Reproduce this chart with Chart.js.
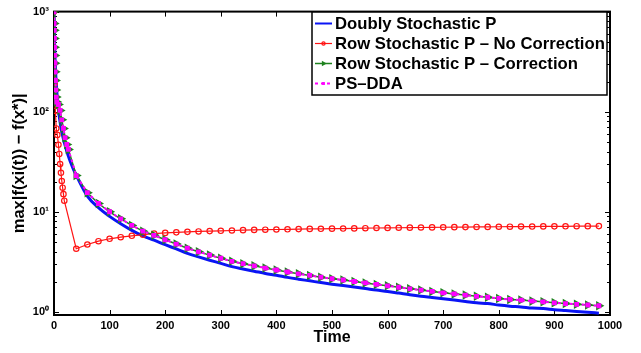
<!DOCTYPE html>
<html lang="en">
  <head>
    <meta charset="UTF-8" />
    <title>Convergence</title>
    <script src="https://cdn.jsdelivr.net/npm/chart.js"></script>
    <style>
      body {
        margin: 0;
        background: #ffffff;
      }
    </style>
  </head>
  <body>
    <canvas id="myChart" width="641" height="353"></canvas>
    <script>
      // time steps after the first transient, every 20 iterations
      const tTail = [40, 60, 80, 100, 120, 140, 160, 180, 200, 220, 240, 260, 280, 300, 320, 340, 360, 380, 400, 420, 440, 460, 480, 500, 520, 540, 560, 580, 600, 620, 640, 660, 680, 700, 720, 740, 760, 780, 800, 820, 840, 860, 880, 900, 920, 940, 960, 980];

      const tDoublyHead = [0, 1, 2, 3, 5, 8, 12, 16, 20, 25, 30, 35];
      const doublyHead = [1000, 500, 320, 240, 160, 105, 72, 56, 46, 37, 31, 26.5];
      const doublyTail = [23.2, 14.35, 11.0, 9.0, 7.59, 6.52, 5.73, 5.2, 4.69, 4.25, 3.84, 3.54, 3.28, 3.05, 2.83, 2.68, 2.55, 2.42, 2.32, 2.21, 2.12, 2.04, 1.96, 1.89, 1.83, 1.77, 1.71, 1.65, 1.6, 1.54, 1.48, 1.43, 1.39, 1.35, 1.31, 1.27, 1.23, 1.21, 1.17, 1.14, 1.12, 1.09, 1.08, 1.05, 1.03, 1.01, 0.99, 0.97];

      const tNoCorrHead = [0, 1, 2.5, 4, 6, 8, 9.5, 11, 12.5, 14, 15.5, 17, 18.5];
      const noCorrHead = [1000, 191, 102, 68, 58.6, 46.7, 37.8, 30, 24.5, 20.3, 17.4, 15, 12.9];
      const noCorrTail = [4.27, 4.71, 5.08, 5.37, 5.57, 5.75, 5.9, 6.05, 6.15, 6.23, 6.3, 6.36, 6.41, 6.45, 6.5, 6.55, 6.59, 6.62, 6.65, 6.68, 6.71, 6.74, 6.76, 6.78, 6.8, 6.82, 6.85, 6.88, 6.9, 6.92, 6.94, 6.96, 6.98, 7.0, 7.02, 7.03, 7.05, 7.06, 7.08, 7.09, 7.11, 7.12, 7.14, 7.15, 7.16, 7.17, 7.18, 7.19];

      const tCorrHead = [0, 0.3, 0.6, 0.9, 1.2, 1.5, 1.8, 2.2, 2.7, 3.3, 4, 5, 8, 11, 14, 17, 20, 23, 26];
      const corrHead = [1000, 760, 650, 540, 440, 365, 305, 250, 205, 165, 140, 125, 118, 103, 83, 68, 55, 47, 42];
      const corrTail = [23, 15.5, 12.1, 10.0, 8.5, 7.3, 6.4, 5.82, 5.25, 4.76, 4.32, 3.98, 3.69, 3.43, 3.2, 3.03, 2.88, 2.74, 2.62, 2.5, 2.4, 2.31, 2.22, 2.14, 2.08, 2.01, 1.945, 1.88, 1.82, 1.76, 1.7, 1.65, 1.6, 1.55, 1.51, 1.47, 1.43, 1.4, 1.36, 1.33, 1.31, 1.28, 1.26, 1.23, 1.21, 1.19, 1.17, 1.15];
      // PS-DDA sits on top of the corrected row-stochastic curve
      const psddaHead = [1000, 760, 650, 540, 440, 365, 305, 250, 205, 165, 140, 125, 118, 103, 83, 68, 55, 47, 42];
      const psddaTail = [23, 15.5, 12.1, 10.0, 8.5, 7.3, 6.4, 5.82, 5.25, 4.76, 4.32, 3.98, 3.69, 3.43, 3.2, 3.03, 2.88, 2.74, 2.62, 2.5, 2.4, 2.31, 2.22, 2.14, 2.08, 2.01, 1.945, 1.88, 1.82, 1.76, 1.7, 1.65, 1.6, 1.55, 1.51, 1.47, 1.43, 1.4, 1.36, 1.33, 1.31, 1.28, 1.26, 1.23, 1.21, 1.19, 1.17, 1.15];

      const xTicks = [0, 100, 200, 300, 400, 500, 600, 700, 800, 900, 1000];
      const yTicks = [1, 10, 100, 1000];

      const FONT = "'Liberation Sans', Arial, Helvetica, sans-serif";
      const sup = ["⁰", "¹", "²", "³"];

      const toPoints = (xs, ys) => xs.map((x, i) => ({ x: x, y: ys[i] }));

      const data = {
        datasets: [
          {
            label: "Doubly Stochastic P",
            data: toPoints(tDoublyHead.concat(tTail), doublyHead.concat(doublyTail)),
            borderColor: "rgb(10, 20, 245)",
            backgroundColor: "rgb(10, 20, 245)",
            borderWidth: 3,
            pointRadius: 0,
            cubicInterpolationMode: "monotone",
            order: 3,
          },
          {
            label: "Row Stochastic P – No Correction",
            data: toPoints(tNoCorrHead.concat(tTail), noCorrHead.concat(noCorrTail)),
            borderColor: "rgb(255, 20, 20)",
            backgroundColor: "rgba(255, 255, 255, 0)",
            borderWidth: 1.2,
            pointStyle: "circle",
            pointRadius: 2.7,
            pointBorderWidth: 1.2,
            pointBorderColor: "rgb(255, 20, 20)",
            pointBackgroundColor: "rgba(255, 255, 255, 0)",
            order: 2,
          },
          {
            label: "Row Stochastic P – Correction",
            data: toPoints(tCorrHead.concat(tTail), corrHead.concat(corrTail)),
            borderColor: "rgb(30, 130, 30)",
            backgroundColor: "rgb(30, 130, 30)",
            borderWidth: 1.5,
            pointStyle: "triangle",
            pointRotation: 90,
            pointRadius: 5.5,
            pointBorderWidth: 0,
            pointBackgroundColor: "rgb(30, 130, 30)",
            order: 1,
          },
          {
            label: "PS–DDA",
            data: toPoints(tCorrHead.concat(tTail), psddaHead.concat(psddaTail)),
            borderColor: "rgb(255, 0, 255)",
            backgroundColor: "rgb(255, 0, 255)",
            borderWidth: 2,
            borderDash: [3, 3],
            pointStyle: "rect",
            pointRadius: 3.4,
            pointBorderWidth: 0,
            pointBackgroundColor: "rgb(255, 0, 255)",
            order: 0,
          },
        ],
      };

      // axes box with inward ticks, drawn under the data like matlab does
      const frame = {
        id: "frame",
        beforeDatasetsDraw(chart) {
          const { ctx, chartArea: a, scales } = chart;
          ctx.save();
          ctx.strokeStyle = "#000";
          ctx.lineWidth = 1;
          ctx.beginPath();
          xTicks.forEach((v) => {
            const px = Math.round(scales.x.getPixelForValue(v)) + 0.5;
            ctx.moveTo(px, a.bottom);
            ctx.lineTo(px, a.bottom - 5);
            ctx.moveTo(px, a.top);
            ctx.lineTo(px, a.top + 5);
          });
          yTicks.forEach((d) => {
            for (let k = 1; k <= 9; k++) {
              const v = d * k;
              if (v > 1000 || (k > 1 && d === 1000)) continue;
              const py = Math.round(scales.y.getPixelForValue(v)) + 0.5;
              const len = k === 1 ? 5 : 3;
              ctx.moveTo(a.left, py);
              ctx.lineTo(a.left + len, py);
              ctx.moveTo(a.right, py);
              ctx.lineTo(a.right - len, py);
            }
          });
          ctx.stroke();
          ctx.lineWidth = 2;
          ctx.strokeRect(a.left, a.top, a.right - a.left, a.bottom - a.top);
          ctx.restore();
        },
      };

      const legendBox = {
        id: "legendBox",
        afterDraw(chart) {
          const ctx = chart.ctx;
          const x0 = 312, y0 = 12, w = 295, h = 83;
          ctx.save();
          ctx.fillStyle = "#fff";
          ctx.fillRect(x0, y0, w, h);
          ctx.strokeStyle = "#000";
          ctx.lineWidth = 1.5;
          ctx.strokeRect(x0, y0, w, h);
          chart.data.datasets.forEach((ds, i) => {
            const cy = y0 + 11.5 + i * 20;
            ctx.strokeStyle = ds.borderColor;
            ctx.lineWidth = Math.min(ds.borderWidth, 2);
            ctx.setLineDash(ds.borderDash || []);
            ctx.beginPath();
            ctx.moveTo(x0 + 3, cy);
            ctx.lineTo(x0 + 20, cy);
            ctx.stroke();
            ctx.setLineDash([]);
            if (ds.pointRadius > 0) {
              ctx.fillStyle = ds.pointBackgroundColor;
              ctx.strokeStyle = ds.pointBorderColor || ds.borderColor;
              ctx.lineWidth = ds.pointBorderWidth;
              Chart.helpers.drawPoint(
                ctx,
                {
                  pointStyle: ds.pointStyle,
                  rotation: ds.pointRotation || 0,
                  radius: ds.pointRadius * 0.6,
                  borderWidth: ds.pointBorderWidth,
                },
                x0 + 11.5,
                cy
              );
            }
            ctx.fillStyle = "#000";
            ctx.font = "bold 16.7px " + FONT;
            ctx.textAlign = "left";
            ctx.textBaseline = "middle";
            ctx.fillText(ds.label, x0 + 23, cy + 1);
          });
          ctx.restore();
        },
      };

      Chart.defaults.color = "#000";

      const config = {
        type: "line",
        data: data,
        options: {
          responsive: false,
          animation: false,
          devicePixelRatio: 1,
          layout: { padding: { top: 8, right: 31, left: 0, bottom: 0 } },
          plugins: {
            legend: { display: false },
            tooltip: { enabled: false },
          },
          scales: {
            x: {
              type: "linear",
              min: 0,
              max: 1000,
              grid: { display: false, drawTicks: false },
              border: { display: false },
              afterBuildTicks: (s) => {
                s.ticks = xTicks.map((v) => ({ value: v }));
              },
              afterFit: (s) => {
                s.height = 38;
              },
              ticks: {
                autoSkip: false,
                maxRotation: 0,
                padding: 4,
                font: { family: FONT, size: 11, weight: "bold" },
                callback: (v) => String(v),
              },
              title: {
                display: true,
                text: "Time",
                font: { family: FONT, size: 16, weight: "bold" },
                padding: { top: 0, bottom: 6 },
              },
            },
            y: {
              type: "logarithmic",
              min: 0.93,
              max: 1000,
              grid: { display: false, drawTicks: false },
              border: { display: false },
              afterBuildTicks: (s) => {
                s.ticks = yTicks.map((v) => ({ value: v }));
              },
              afterFit: (s) => {
                s.width = 54;
              },
              ticks: {
                padding: 5,
                font: { family: FONT, size: 11, weight: "bold" },
                callback: (v) => "10" + sup[Math.round(Math.log10(v))],
              },
              title: {
                display: true,
                text: "max|f(xi(t)) − f(x*)|",
                font: { family: FONT, size: 16.5, weight: "bold" },
                padding: { top: 10, bottom: 0 },
              },
            },
          },
        },
        plugins: [frame, legendBox],
      };

      const myChart = new Chart(document.getElementById("myChart"), config);
    </script>
  </body>
</html>
